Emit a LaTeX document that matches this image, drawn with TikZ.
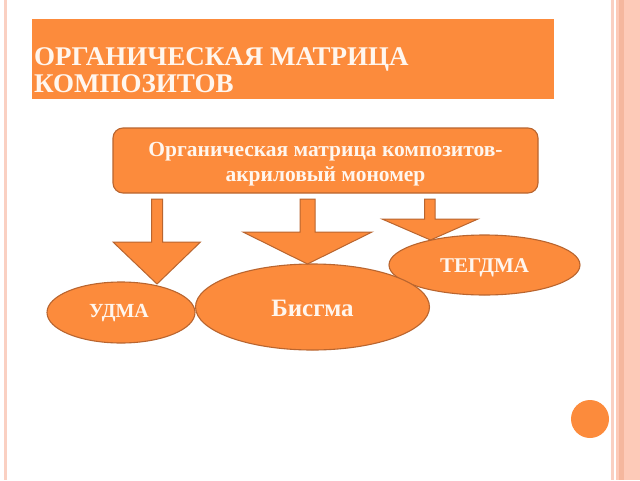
\documentclass[tikz,border=0pt]{standalone}
\usepackage{fontspec}
\setmainfont{Liberation Serif}
\usetikzlibrary{shapes.geometric}
\definecolor{org}{HTML}{FC8B3C}
\definecolor{orgline}{HTML}{B9652F}
\definecolor{txt}{HTML}{FFF6EE}
\definecolor{pinkA}{HTML}{FDCAB8}
\definecolor{pinkD}{HTML}{F5B79E}
\definecolor{pinkL}{HTML}{FAD0C2}
\tikzset{
  shapebox/.style={fill=org, draw=orgline, line width=1.1pt},
  blockarrow/.style={fill=org, draw=orgline, line width=1pt, line join=miter},
  oval/.style={ellipse, shapebox, inner sep=0pt},
  ovaltext/.style={inner sep=0pt, text=txt, font=\bfseries\fontsize{#1}{#1}\selectfont},
}
\begin{document}
\begin{tikzpicture}[x=1pt,y=-1pt]
\fill[white] (0,0) rectangle (640,480);
\useasboundingbox (0,0) rectangle (640,480);
% borders
\fill[pinkL] (3.5,0) rectangle (6.5,480);
\fill[pinkL] (611,0) rectangle (613.5,480);
\fill[pinkA] (616,0) rectangle (640,480);
\fill[pinkD] (619,0) rectangle (624,480);
% title
\node[fill=org, minimum width=522pt, minimum height=80pt, anchor=north west, inner sep=0pt] (title) at (32,19) {};
\node[anchor=north west, inner sep=0pt, align=left, text=txt,
      font=\bfseries\fontsize{27}{27}\selectfont] (titletext) at (34,47) {ОРГАНИЧЕСКАЯ МАТРИЦА\\КОМПОЗИТОВ};
% main box
\node[shapebox, rounded corners=10pt, minimum width=425pt, minimum height=65pt, inner sep=0pt] (main) at (325.5,160.5) {};
\node[inner sep=0pt, align=center, text=txt, font=\bfseries\fontsize{21.5}{24.5}\selectfont]
      (maintext) at ([yshift=-3.5pt]main.center) {Органическая матрица композитов-\\акриловый мономер};
% ellipses
\node[oval, minimum width=148pt, minimum height=61pt] (udma) at (121,312.5) {};
\node[ovaltext=20] (udmatext) at ([xshift=-2pt,yshift=-0.5pt]udma.center) {УДМА};
\node[oval, minimum width=191pt, minimum height=60pt] (tegdma) at (484.5,265) {};
\node[ovaltext=21] (tegdmatext) at ([yshift=-3pt]tegdma.center) {ТЕГДМА};
\node[oval, minimum width=234pt, minimum height=86pt] (bisgma) at (312.5,307) {};
\node[ovaltext=25] (bisgmatext) at ([yshift=-1pt]bisgma.center) {Бисгма};
% block arrows
\draw[blockarrow] (151.5,199) -- (162.5,199) -- (162.5,242) -- (200.5,242) -- (157,284) -- (113,242) -- (151.5,242) -- cycle;
\draw[blockarrow] (300,199) -- (315,199) -- (315,232) -- (372,232) -- (307.5,264) -- (243,232) -- (300,232) -- cycle;
\draw[blockarrow] (424.5,199) -- (435,199) -- (435,219) -- (478,219) -- (430.5,240) -- (382,219) -- (424.5,219) -- cycle;
% decorative circle
\fill[org] (590,419) circle (19);
\end{tikzpicture}
\end{document}
